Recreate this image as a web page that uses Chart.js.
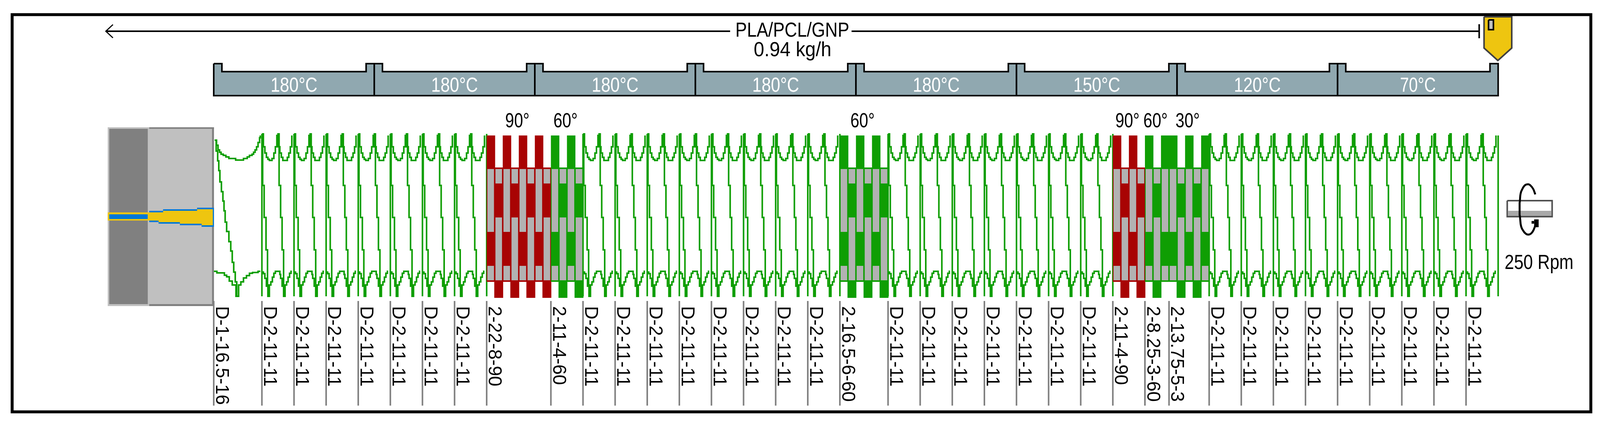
<!DOCTYPE html>
<html>
<head>
<meta charset="utf-8">
<title>PLA/PCL/GNP screw profile</title>
<script src="https://cdn.jsdelivr.net/npm/chart.js@4/dist/chart.umd.min.js"></script>
<style>
	html, body { margin: 0; padding: 0; background: #fff; overflow: hidden; }
	canvas { display: block; }
</style>
</head>
<body>
<canvas id="screwChart"></canvas>
<script>
// screw elements, in axial order
const elementNames = [
	"D-1-16.5-16",
	"D-2-11-11", "D-2-11-11", "D-2-11-11", "D-2-11-11", "D-2-11-11", "D-2-11-11", "D-2-11-11",
	"2-22-8-90", "2-11-4-60",
	"D-2-11-11", "D-2-11-11", "D-2-11-11", "D-2-11-11", "D-2-11-11", "D-2-11-11", "D-2-11-11", "D-2-11-11",
	"2-16.5-6-60",
	"D-2-11-11", "D-2-11-11", "D-2-11-11", "D-2-11-11", "D-2-11-11", "D-2-11-11", "D-2-11-11",
	"2-11-4-90", "2-8.25-3-60", "2-13.75-5-3",
	"D-2-11-11", "D-2-11-11", "D-2-11-11", "D-2-11-11", "D-2-11-11", "D-2-11-11", "D-2-11-11", "D-2-11-11", "D-2-11-11"
];
const elementLengths = [
	16.5,
	11, 11, 11, 11, 11, 11, 11,
	22, 11,
	11, 11, 11, 11, 11, 11, 11, 11,
	16.5,
	11, 11, 11, 11, 11, 11, 11,
	11, 8.25, 13.75,
	11, 11, 11, 11, 11, 11, 11, 11, 11
];
// kneading blocks only: index in elementNames, number of discs, stagger angle
const blockIndexes = [8, 9, 18, 26, 27, 28];
const blockDiscs = [8, 4, 6, 4, 3, 5];
const blockAngles = ["90°", "60°", "60°", "90°", "60°", "30°"];

const zoneTemps = ["180°C", "180°C", "180°C", "180°C", "180°C", "150°C", "120°C", "70°C"];
const zoneLength = 55;
const feedLabel = "PLA/PCL/GNP";
const rateLabel = "0.94 kg/h";
const speedLabel = "250 Rpm";

// D-2-11-11 profile (mm from element start, level from screw axis)
const crestMm = [0, .51, 1.02, 1.54, 2.05, 2.56, 3.07, 3.46, 4.1, 4.61, 5.12, 5.51, 5.64, 6.15, 6.66, 7.17, 8.2, 8.71, 9.22, 9.74, 10.25];
const crestLevel = [51.75, 43.5, 39.5, 36.75, 35.5, 34.75, 34.75, 36, 39.5, 43.5, 50.75, 51.75, 43.5, 39.5, 36.75, 34.75, 34.75, 36.75, 39.5, 43.5, 50.75];
const rootMm = [0, .51, 1.02, 1.54, 2.05, 2.56, 3.07, 3.59, 4.1, 4.61, 5.64, 6.15, 6.41, 6.92, 7.43, 7.94, 8.46, 8.97, 9.48, 9.99, 10.25];
const rootLevel = [-36.75, -37.75, -40.75, -45.75, -52.25, -45, -43, -40, -37.5, -36.25, -36.25, -38.25, -40.75, -45.75, -52.25, -45, -43, -40, -37.5, -36.25, -36.25];
const flightMm = [.26, .26, .77, 1.41, 1.92, 2.31, null, 5.38, 5.89, 6.41, 6.92, 7.43, 7.69];
const flightLevel = [51.75, 18.75, -1.75, -22.5, -45, -52.25, null, 51.75, 18.75, -1.75, -22.5, -45, -52.25];

// D-1-16.5-16 profile
const firstCrestMm = [.32, .96, 1.47, 1.99, 2.5, 3.27, 4.16, 5.19, 7.5, 10.19, 11.47, 12.24, 13.13, 13.65, 14.16, 14.67, 15.18, 15.7, 15.95];
const firstCrestLevel = [47.75, 44.5, 41.5, 40, 38.75, 38, 37, 36, 35, 36, 37, 38, 38.75, 40, 41.5, 43.5, 46.25, 49.25, 50.75];
const firstRootMm = [.06, 1.08, 3.65, 4.42, 5.32, 6.34, 7.62, 8.52, 9.29, 10.19, 11.21, 12.24, 13.27, 15.18, 15.95];
const firstRootLevel = [-36.25, -37.25, -38.75, -39.75, -42.5, -45, -52.25, -45, -43, -40.5, -39, -37.5, -37, -36.25, -36.25];
const firstFlightMm = [.45, .83, 1.35, 1.73, 2.11, 2.63, 3.14, 3.52, 3.91, 4.42, 5.19, 5.83, 6.34, 6.85, 7.37, 7.88];
const firstFlightLevel = [47.75, 40.75, 34.5, 28.25, 21, 14.75, 8.75, 2.5, -4.75, -10.75, -17.25, -23.25, -30.5, -36.75, -43, -52.25];

// rotation arrow next to the shaft
const spinMm = [452.72, 452.08, 451.06, 450.3, 449.27, 448.24, 447.6, 447.35, 447.35, 447.73, 448.5, 449.52, 450.3, 451.32, 452.08, 452.72];
const spinLevel = [13, 16.25, 18.75, 19.5, 19, 16.25, 12.5, 7.5, 0, -6.25, -10, -12.25, -12.75, -12, -10, -7];

const GREEN = "#0f9e03", RED = "#a80303", GREY = "#b2b2b2", YELLOW = "#eec510", BLUE = "#0078d7";
const FONT = '51px "Liberation Sans"';

// the browser may cap the window width, so the axis is fitted to what is really there
const canvas = document.getElementById("screwChart");
canvas.width = window.innerWidth;
canvas.height = window.innerHeight;
const widthFactor = canvas.width / 4278;

const starts = [];
elementLengths.reduce((pos, len, i) => { starts[i] = pos; return pos + len; }, 0);
const screwEnd = zoneLength * zoneTemps.length;

const datasets = [];

function pts(xs, ys) {
	return xs.map((x, i) => ({ x: x === null ? NaN : x, y: ys[i] === null ? NaN : ys[i] }));
}

function addLine(data, color, width, extra) {
	datasets.push(Object.assign({
		data: data, showLine: true, fill: false, pointRadius: 0,
		borderColor: color, borderWidth: width,
		borderCapStyle: "butt", borderJoinStyle: "miter"
	}, extra));
}

function addShape(xs, ys, fill, stroke, width) {
	addLine(pts(xs.concat(xs[0]), ys.concat(ys[0])), stroke || fill, stroke ? width : 0, {
		fill: "shape", backgroundColor: fill
	});
}

function addRect(x0, x1, top, bottom, fill, stroke, width) {
	addShape([x0, x1, x1, x0], [top, top, bottom, bottom], fill, stroke, width);
}

// frame
addLine(pts([-69.06, 471.75, 471.75, -69.06, -69.06, 471.75], [128.125, 128.125, -126.25, -126.25, 128.125, 128.125]), "#000", 7.5);

// feed arrow
addLine(pts([-36.96, 176.9], [117.5, 117.5]), "#000", 4);
addLine(pts([218.5, 433.5], [117.5, 117.5]), "#000", 4);
addLine(pts([-34.53, -36.96, -34.53], [121.75, 117.5, 113.25]), "#000", 3);
addLine(pts([433.5, 433.5], [122, 113]), "#000", 4);

// barrel zones
zoneTemps.forEach((temp, i) => {
	const a = i * zoneLength, b = a + zoneLength;
	addShape([a, a + 2.8, a + 2.8, b - 2.8, b - 2.8, b, b, a],
		[96.75, 96.75, 91.6, 91.6, 96.75, 96.75, 76.25, 76.25], "#90a8b0", "#000", 4);
});

// hopper
addShape([435.17, 444.66, 444.66, 439.9, 435.17], [126.75, 126.75, 106.75, 98.75, 106.75], YELLOW, "#404040", 4);
addRect(436.71, 438.38, 124.75, 118.5, "#c0c0c0", "#000", 4);

// die
addRect(-36.32, 0.06, 56, -58.5, "#c0c0c0");
addRect(-35.8, -22.6, 55, -57.25, "#808080");
addRect(-22.1, 0.06, 56, 55, "#808080");
addRect(-22.1, 0.06, -57.25, -58.5, "#808080");
addRect(-0.58, 0.06, 56, -58.5, "#808080");
addRect(-36.32, -22.6, 1.5, -3.75, YELLOW);
addRect(-35.8, -22.6, 0.25, -2.75, BLUE);
addShape([-22.1, -17.36, -17.36, -5.7, -5.7, 0.06, 0.06, -4.16, -4.16, -11.6, -11.6, -18.9, -18.9, -22.1],
	[2.5, 2.5, 3.5, 3.5, 4.5, 4.5, -7.75, -7.75, -6.75, -6.75, -5.75, -5.75, -4.75, -4.75], BLUE);
addShape([-22.6, -17.36, -17.36, -5.7, -5.7, -0.32, -0.32, -4.16, -4.16, -11.6, -11.6, -18.9, -18.9, -22.6],
	[1.5, 1.5, 2.5, 2.5, 3.5, 3.5, -6.75, -6.75, -5.75, -5.75, -4.75, -4.75, -3.75, -3.75], YELLOW);

// conveying elements, one stepped line per trace
const crestLine = pts(firstCrestMm.map(m => m + starts[0]), firstCrestLevel);
const rootLine = pts(firstRootMm.map(m => m + starts[0]), firstRootLevel);
const flightLine = pts(firstFlightMm.map(m => m + starts[0]), firstFlightLevel);
const wallLine = [];
const gap = { x: NaN, y: NaN };

elementNames.forEach((name, i) => {
	const isBlock = blockIndexes.includes(i);
	if (i > 0 && (!isBlock || !blockIndexes.includes(i - 1))) {
		wallLine.push({ x: starts[i], y: 51.75 }, { x: starts[i], y: -52.25 }, gap);
	}
	if (i === 0 || isBlock) return;
	crestLine.push(gap, ...pts(crestMm.map(m => m + starts[i]), crestLevel));
	rootLine.push(gap, ...pts(rootMm.map(m => m + starts[i]), rootLevel));
	flightLine.push(gap, ...pts(flightMm.map(m => m === null ? null : m + starts[i]), flightLevel));
});
wallLine.push({ x: screwEnd, y: 50.75 }, { x: screwEnd, y: -52.25 });

[crestLine, rootLine, flightLine, wallLine].forEach(line => addLine(line, GREEN, 4, { stepped: true }));

// kneading blocks: body first, lobes, then grey discs on top
blockIndexes.forEach((idx, b) => {
	const color = blockAngles[b] === "90°" ? RED : GREEN;
	const from = starts[idx], to = from + elementLengths[idx];
	const w = elementLengths[idx] / blockDiscs[b];
	addRect(from, to + .2, 30.25, -43, color);
	for (let d = 0; d < blockDiscs[b]; d++) {
		const x = from + d * w;
		if (d % 2 === 0) {
			addRect(x, x + w + .15, 50.75, 30, color);
			addRect(x + .25, x + 2.5, 29.25, -11, GREY);
			addRect(x + .25, x + 2.5, -32.75, -42, GREY);
		} else {
			addRect(x - .15, x + w + .15, -43, -53.25, color);
			addRect(x + .25, x + 2.5, 29.25, 20, GREY);
			addRect(x + .25, x + 2.5, -1.75, -42, GREY);
		}
	}
});

// element tick marks under the screw
const tickLine = [];
starts.forEach(s => tickLine.push({ x: s, y: -55.25 }, { x: s, y: -122.25 }, gap));
addLine(tickLine, "#808080", 4);

// shaft icon
addRect(443.11, 458.49, 9, -1.25, "#fff", "#505050", 4);
addRect(443.4, 458.2, 2.5, -0.75, "#a8a8a8");
addLine(pts(spinMm, spinLevel), "#000", 5, { tension: .4, cubicInterpolationMode: "monotone" });
addRect(452.33, 453.87, -3, -8, "#000");
addRect(451.45, 452.33, -4, -5.75, "#000");

// chart.js paints the first dataset last
datasets.reverse();

// real text on top of the marks, squeezed because the reference font is narrower
function putText(ctx, text, x, y, squeeze, color, align, angle) {
	ctx.save();
	ctx.translate(x, y);
	ctx.scale(widthFactor, 1);
	if (angle) ctx.rotate(angle);
	ctx.scale(squeeze, 1);
	ctx.font = FONT;
	ctx.fillStyle = color;
	ctx.textAlign = align;
	ctx.textBaseline = "alphabetic";
	ctx.fillText(text, 0, 0);
	ctx.restore();
}

const textPlugin = {
	id: "screwText",
	afterDatasetsDraw(chart) {
		const { ctx, scales: { x, y } } = chart;

		putText(ctx, feedLabel, x.getPixelForValue(198.2), y.getPixelForValue(114), .91, "#000", "center");
		putText(ctx, rateLabel, x.getPixelForValue(198.3), y.getPixelForValue(101.5), .99, "#000", "center");

		zoneTemps.forEach((temp, i) => {
			putText(ctx, temp, x.getPixelForValue((i + .5) * zoneLength), y.getPixelForValue(78.75), temp.length > 4 ? .88 : .84, "#fff", "center");
		});

		blockIndexes.forEach((idx, b) => {
			const mid = starts[idx] + elementLengths[idx] / 2 - .5;
			putText(ctx, blockAngles[b], x.getPixelForValue(mid), y.getPixelForValue(56), .84, "#000", "center");
		});

		putText(ctx, speedLabel, x.getPixelForValue(442.2), y.getPixelForValue(-34.75), .89, "#000", "left");

		// element names read downwards and stop at the frame
		ctx.save();
		ctx.beginPath();
		ctx.rect(0, 0, chart.width, y.getPixelForValue(-125));
		ctx.clip();
		elementNames.forEach((name, i) => {
			putText(ctx, name, x.getPixelForValue(starts[i] + .75), y.getPixelForValue(-58.5), .93, "#000", "left", Math.PI / 2);
		});
		ctx.restore();
	}
};

new Chart(canvas, {
	type: "scatter",
	data: { datasets: datasets },
	options: {
		responsive: false,
		devicePixelRatio: 1,
		animation: false,
		layout: { padding: 0 },
		plugins: { legend: { display: false }, tooltip: { enabled: false } },
		scales: {
			x: { type: "linear", display: false, min: -73.22, max: 474.89 },
			y: { type: "linear", display: false, min: -132.75, max: 137.5 }
		}
	},
	plugins: [textPlugin]
});
</script>
</body>
</html>
